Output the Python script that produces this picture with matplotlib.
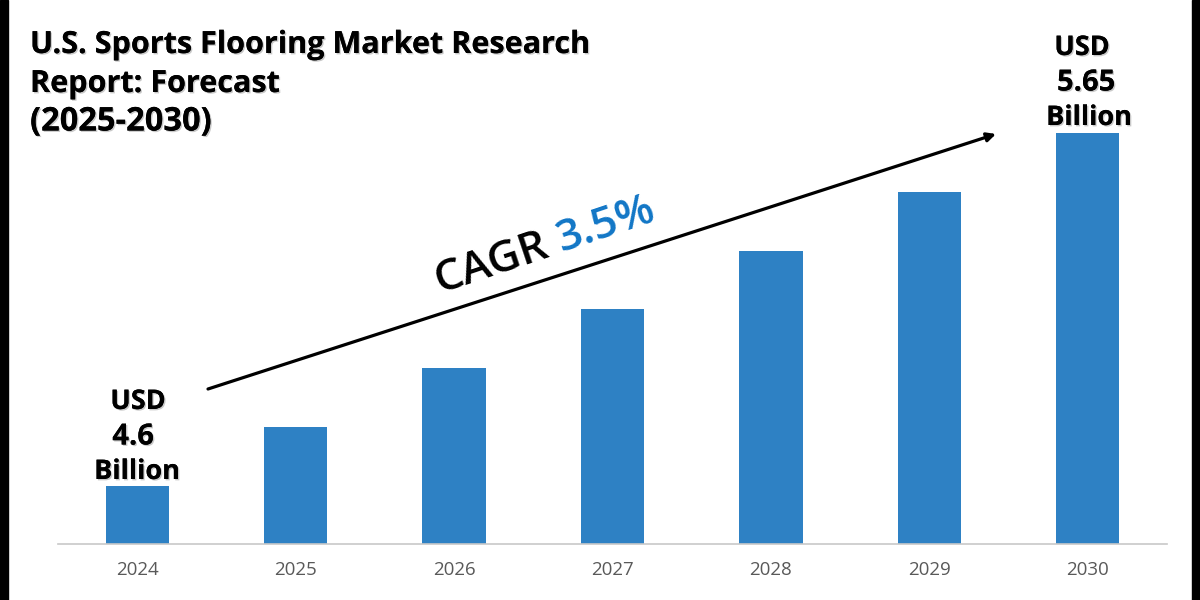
import matplotlib
matplotlib.use("Agg")
import matplotlib.pyplot as plt
import matplotlib.patheffects as pe
from matplotlib.patches import Rectangle

years = ["2024", "2025", "2026", "2027", "2028", "2029", "2030"]
values = [4.60, 4.775, 4.95, 5.125, 5.30, 5.475, 5.65]
title_lines = ["U.S. Sports Flooring Market Research", "Report: Forecast", "(2025-2030)"]
start_lines = ["USD", "4.6", "Billion"]
end_lines = ["USD", "5.65", "Billion"]

plt.rcParams['font.family'] = ['Open Sans', 'DejaVu Sans']
fig = plt.figure(figsize=(12, 6), dpi=100)
fig.patches.append(Rectangle((0, 0), 8/1200, 1, transform=fig.transFigure, color='black', zorder=5))
fig.patches.append(Rectangle((1192/1200, 0), 8/1200, 1, transform=fig.transFigure, color='black', zorder=5))
ax = fig.add_axes([58/1200, 56/600, 1109/1200, 544/600])
ax.bar(range(len(years)), values, width=0.4, color="#2E81C4", zorder=2)
ax.set_xlim(-0.5, 6.5)
ax.set_ylim(4.427, 4.427 + 544/336)
ax.set_xticks(range(len(years)))
ax.set_xticklabels(years, fontsize=13.5, color="#595959")
ax.tick_params(axis='x', length=0, pad=12)
ax.set_yticks([])
for s in ['top', 'right', 'left']:
    ax.spines[s].set_visible(False)
ax.spines['bottom'].set_color("#C8C8C8")
ax.spines['bottom'].set_linewidth(1.2)
ax.patch.set_alpha(0)

ov = fig.add_axes([0, 0, 1, 1])
ov.set_xlim(0, 1200)
ov.set_ylim(600, 0)
ov.axis('off')

shadow = [pe.withSimplePatchShadow(offset=(1, -1), shadow_rgbFace='#888888', alpha=0.45), pe.Normal()]

for ln, y, fs in zip(title_lines, [45, 84, 122], [22, 22, 23.5]):
    ov.text(30, y, ln, fontsize=fs, fontweight='bold', color='black', va='center', ha='left',
            path_effects=shadow)

for ln, x, y, fs in zip(start_lines, [138, 133, 137], [402, 437, 472], [19.5, 21, 19.5]):
    ov.text(x, y, ln, fontsize=fs, fontweight='bold', color='black', va='center', ha='center',
            path_effects=shadow)
for ln, x, y, fs in zip(end_lines, [1082, 1086, 1089], [48, 83, 118], [19.5, 21, 19.5]):
    ov.text(x, y, ln, fontsize=fs, fontweight='bold', color='black', va='center', ha='center',
            path_effects=shadow)

ov.annotate("", xy=(996, 134), xytext=(208, 389),
            arrowprops=dict(arrowstyle='-|>', color='black', lw=2.3, mutation_scale=13,
                            shrinkA=0, shrinkB=0))
angle = 18.5
ov.text(491, 263, "CAGR", fontsize=32, fontweight='semibold', color='black',
        rotation=angle, rotation_mode='anchor', ha='center', va='center')
ov.text(606, 225, "3.5%", fontsize=32, fontweight='semibold', color='#1176C6',
        rotation=angle, rotation_mode='anchor', ha='center', va='center')

fig.savefig("out.png", dpi=100)
